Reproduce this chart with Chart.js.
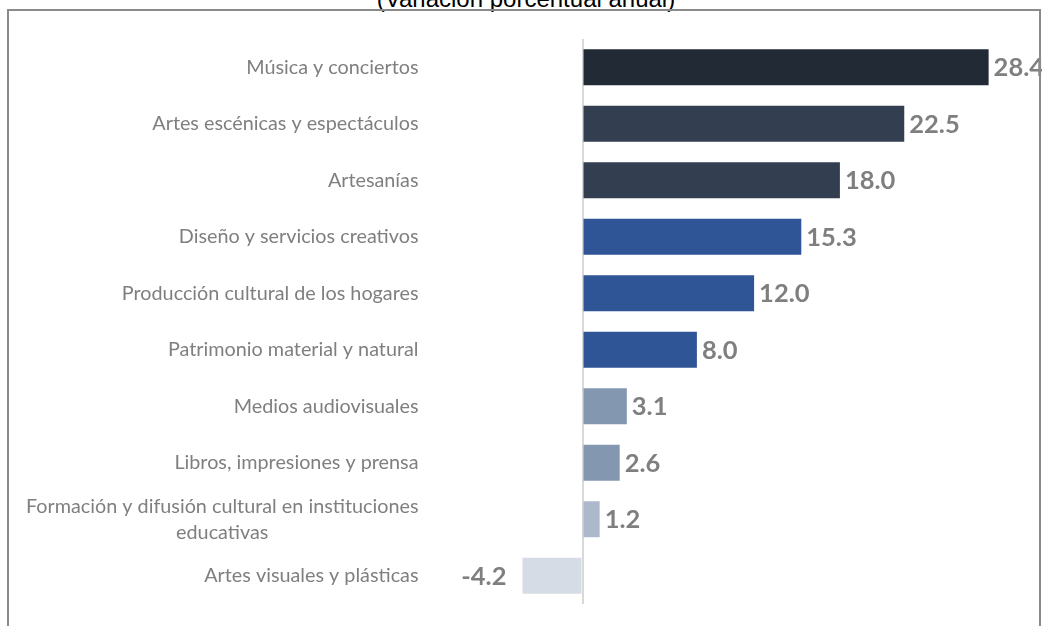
<!DOCTYPE html>
<html>
<head>
<meta charset="utf-8">
<script src="https://cdn.jsdelivr.net/npm/chart.js@4.4.1/dist/chart.umd.min.js"></script>
<style>
  html, body { margin: 0; padding: 0; background: #ffffff; width: 1042px; height: 626px; overflow: hidden; }
  #wrap { position: relative; width: 1042px; height: 626px; }
  #title { position: absolute; left: 0; width: 1052px; top: -13px; text-align: center;
           font: 24px "Liberation Sans", Arial, sans-serif; line-height: 24px; color: #000; white-space: nowrap; }
  #frame { position: absolute; left: 7px; top: 9px; width: 1034px; height: 700px; box-sizing: border-box;
           border: 2px solid #8a8a8a; pointer-events: none; }
  canvas { position: absolute; left: 0; top: 0; }
</style>
</head>
<body>
<div id="wrap">
  <div id="title">(Variación porcentual anual)</div>
  <canvas id="c" width="1042" height="626"></canvas>
  <div id="frame"></div>
</div>
<script>
const categories = [
  "Música y conciertos",
  "Artes escénicas y espectáculos",
  "Artesanías",
  "Diseño y servicios creativos",
  "Producción cultural de los hogares",
  "Patrimonio material y natural",
  "Medios audiovisuales",
  "Libros, impresiones y prensa",
  ["Formación y difusión cultural en instituciones", "educativas"],
  "Artes visuales y plásticas"
];
const values = [28.4, 22.5, 18.0, 15.3, 12.0, 8.0, 3.1, 2.6, 1.2, -4.2];
const barColors = ["#222A35", "#333F50", "#333F50", "#2F5597", "#2F5597", "#2F5597", "#8497B0", "#8497B0", "#ADB9CA", "#D6DCE5"];
const xMin = -10;
const xMax = 30;

const labelPlugin = {
  id: 'sideLabels',
  afterDatasetsDraw(chart) {
    const ctx = chart.ctx;
    const ys = chart.scales.y;
    const area = chart.chartArea;
    ctx.save();
    ctx.textBaseline = 'middle';
    // category labels
    ctx.font = '19.8px Lato';
    ctx.fillStyle = '#7f7f7f';
    ctx.textAlign = 'center';
    const rightEdge = area.left - 21;
    const lineH = 26;
    categories.forEach((c, i) => {
      const lines = Array.isArray(c) ? c : [c];
      const w = Math.max(...lines.map(l => ctx.measureText(l).width));
      const cx = rightEdge - w / 2;
      const yc = ys.getPixelForValue(i);
      lines.forEach((l, j) => ctx.fillText(l, cx, yc + (j - (lines.length - 1) / 2) * lineH));
    });
    // value labels
    ctx.font = 'bold 25.5px Lato';
    ctx.fillStyle = '#7f7f7f';
    const meta = chart.getDatasetMeta(0);
    meta.data.forEach((bar, i) => {
      const v = values[i];
      const t = v.toFixed(1);
      if (v >= 0) { ctx.textAlign = 'left'; ctx.fillText(t, bar.x + 5, bar.y + 1); }
      else { ctx.textAlign = 'right'; ctx.fillText(t, bar.x - 16, bar.y + 1); }
    });
    ctx.restore();
  }
};

function draw() {
  new Chart(document.getElementById('c'), {
    type: 'bar',
    data: {
      labels: categories,
      datasets: [{
        data: values,
        backgroundColor: barColors,
        borderWidth: 0,
        barPercentage: 0.636,
        categoryPercentage: 1.0
      }]
    },
    options: {
      indexAxis: 'y',
      responsive: false,
      animation: false,
      devicePixelRatio: 1,
      layout: { padding: { top: 39, bottom: 22, left: 439.5, right: 30.5 } },
      plugins: { legend: { display: false }, tooltip: { enabled: false }, title: { display: false } },
      scales: {
        x: {
          min: xMin, max: xMax,
          ticks: { display: false, stepSize: 10 },
          border: { display: false },
          grid: {
            drawTicks: false,
            lineWidth: 2,
            color: (c) => (c.tick && c.tick.value === 0) ? '#d9d9d9' : 'rgba(0,0,0,0)'
          }
        },
        y: { display: false }
      }
    },
    plugins: [labelPlugin]
  });
}

Promise.all([
  document.fonts.load('19.8px Lato'),
  document.fonts.load('bold 25.5px Lato')
]).then(draw, draw);
</script>
</body>
</html>
